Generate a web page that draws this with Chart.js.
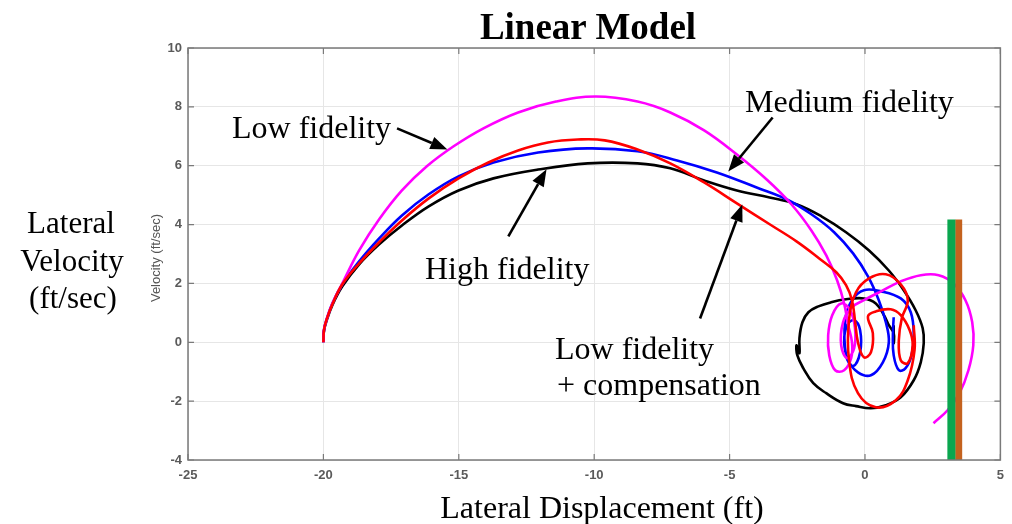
<!DOCTYPE html>
<html><head><meta charset="utf-8">
<script src="https://cdn.jsdelivr.net/npm/chart.js@4.4.1/dist/chart.umd.min.js"></script>
<style>
html,body{margin:0;padding:0;background:#fff;}
#wrap{position:relative;width:1012px;height:524px;overflow:hidden;background:#fff;}
#c{position:absolute;left:0;top:0;}
.t{position:absolute;font-family:"Liberation Serif","Times New Roman",serif;color:#000;white-space:nowrap;line-height:1;font-size:32px;}
.s{position:absolute;font-family:"Liberation Sans",Arial,sans-serif;color:#555;white-space:nowrap;line-height:1;font-size:13px;}
</style></head><body>
<div id="wrap">
<canvas id="c" width="1012" height="524"></canvas>
<div class="t" style="left:588px;top:26px;transform:translate(-50%,-50%);font-size:37px;font-weight:bold;">Linear Model</div>
<div class="t" style="left:71px;top:222px;transform:translate(-50%,-50%);font-size:31px;">Lateral</div>
<div class="t" style="left:72px;top:260px;transform:translate(-50%,-50%);font-size:31px;">Velocity</div>
<div class="t" style="left:73px;top:297px;transform:translate(-50%,-50%);font-size:31px;">(ft/sec)</div>
<div class="t" style="left:602px;top:507px;transform:translate(-50%,-50%);">Lateral Displacement (ft)</div>
<div class="t" style="left:232px;top:127px;transform:translateY(-50%);">Low fidelity</div>
<div class="t" style="left:745px;top:101px;transform:translateY(-50%);">Medium fidelity</div>
<div class="t" style="left:425px;top:268px;transform:translateY(-50%);">High fidelity</div>
<div class="t" style="left:555px;top:348px;transform:translateY(-50%);">Low fidelity</div>
<div class="t" style="left:557px;top:384px;transform:translateY(-50%);">+ compensation</div>
<div class="s" style="left:155px;top:258px;transform:translate(-50%,-50%) rotate(-90deg);">Velocity (ft/sec)</div>
</div>
<script>
// ---- data ----
const xTickValues = [-25, -20, -15, -10, -5, 0, 5];
const yTickValues = [-4, -2, 0, 2, 4, 6, 8, 10];

// Low fidelity (magenta)
const lowX = [-20.0,-19.98,-19.89,-19.67,-19.30,-18.68,-17.94,-17.10,-16.18,-15.19,-14.09,-12.81,-11.41,-9.94,-8.40,-7.19,-5.94,-4.73,-3.63,-2.72,-1.98,-1.43,-1.03,-0.77,-0.62,
  -0.48,-0.51,-0.77,-1.10,-1.32,-1.36,-1.21,-0.88,-0.55,-0.37,-0.40,-0.66,-0.88,-0.81,-0.48,-0.04,0.59,1.32,2.06,2.72,3.27,3.71,3.96,4.00,3.82,3.49,3.05,2.53];
const lowY = [0,0.41,0.75,1.32,2.00,3.12,4.18,5.16,5.98,6.66,7.27,7.81,8.18,8.35,8.18,7.81,7.20,6.38,5.53,4.69,3.80,2.95,2.11,1.32,0.58,
  0,-0.54,-0.95,-0.95,-0.44,0.24,0.92,1.32,1.09,0.48,-0.20,-0.54,-0.10,0.68,1.19,1.43,1.73,2.07,2.28,2.28,2.00,1.43,0.68,-0.10,-0.95,-1.73,-2.31,-2.75];

// Medium fidelity (blue)
const medX = [-20.0,-19.98,-19.89,-19.67,-19.30,-18.68,-17.94,-17.10,-16.11,-15.01,-13.72,-12.07,-10.24,-8.40,-6.94,-5.47,-4.00,-2.90,-1.98,-1.14,-0.44,0.11,0.51,0.77,0.88,
  0.66,0.22,-0.26,-0.62,-0.77,-0.66,-0.40,-0.18,-0.18,-0.44,-0.70,-0.73,-0.48,-0.04,0.59,1.32,1.69,1.80,1.72,1.50,1.25,1.06,1.03,1.06];
const medY = [0,0.41,0.75,1.32,1.97,2.75,3.53,4.31,5.03,5.64,6.11,6.45,6.59,6.49,6.18,5.77,5.26,4.86,4.35,3.74,3.02,2.24,1.43,0.68,0,
  -0.68,-1.12,-1.02,-0.61,0,0.58,0.75,0.41,-0.34,-0.81,-0.44,0.75,1.43,1.77,1.73,1.49,1.02,0.24,-0.44,-0.88,-0.95,-0.44,0.24,0.85];

// High fidelity (black)
const highX = [-20.0,-19.98,-19.89,-19.67,-19.30,-18.68,-17.94,-17.10,-16.11,-15.01,-13.72,-12.07,-10.24,-8.40,-7.19,-5.94,-4.73,-3.52,-2.53,-1.61,-0.70,0.15,0.88,1.43,1.87,2.13,2.17,
  2.06,1.80,1.32,0.77,0.22,-0.33,-0.81,-1.43,-1.91,-2.28,-2.50,-2.53,-2.42,-2.42,-2.31,-2.09,-1.72,-1.25,-0.70,-0.04,0.40,0.70,0.88,1.06,1.06,1.06];
const highY = [0,0.37,0.71,1.26,1.90,2.65,3.33,3.97,4.62,5.16,5.57,5.87,6.08,6.08,5.91,5.50,5.16,4.92,4.69,4.28,3.74,3.12,2.44,1.77,1.09,0.48,-0.03,
  -0.68,-1.29,-1.87,-2.14,-2.24,-2.17,-2.07,-1.73,-1.39,-0.88,-0.44,-0.10,-0.37,0.14,0.68,1.02,1.22,1.36,1.46,1.49,1.32,0.92,0.58,0.31,-0.03,0.58];

// Low fidelity + compensation (red)
const compX = [-20.0,-19.98,-19.89,-19.67,-19.30,-18.68,-17.94,-17.10,-16.11,-15.01,-13.91,-12.81,-11.71,-10.61,-9.61,-8.40,-7.19,-5.94,-4.73,-3.52,-2.53,-1.69,-1.06,-0.70,-0.48,-0.37,
  -0.26,-0.04,0.22,0.29,0.11,0.40,0.95,1.32,1.65,1.76,1.58,1.32,1.25,1.36,1.58,1.32,0.77,0.15,-0.33,-0.59,-0.59,-0.26,0.40,1.14,1.58,1.83,1.80];
const compY = [0,0.41,0.75,1.29,1.97,2.68,3.40,4.14,4.89,5.57,6.11,6.52,6.79,6.89,6.86,6.55,6.08,5.43,4.72,4.01,3.43,2.85,2.38,1.94,1.43,0.75,
  0,-0.51,-0.34,0.31,0.88,1.05,1.12,0.92,0.41,-0.10,-0.71,-0.61,0.07,0.82,1.43,1.97,2.31,2.17,1.70,0.75,-0.61,-1.73,-2.21,-1.97,-1.29,-0.27,0.58];

// Barrier bars (green, orange): x position, bottom and top
const greenBarX = [3.19, 3.19];
const orangeBarX = [3.46, 3.46];
const barY = [-4, 4.17];

// Annotation arrows [tailX, tailY, tipX, tipY] in data units
const arrows = [
  [-17.28, 7.27, -15.42, 6.55],
  [-3.41, 7.64, -5.05, 5.80],
  [-13.17, 3.60, -11.76, 5.88],
  [-6.09, 0.81, -4.53, 4.68]
];

const pts = (xs, ys) => xs.map((x, i) => ({x, y: ys[i]}));

const frame = {
  id: 'frame',
  afterDatasetsDraw(chart) {
    const {ctx, chartArea: a, scales: {x, y}} = chart;
    ctx.save();
    ctx.strokeStyle = '#000'; ctx.fillStyle = '#000'; ctx.lineWidth = 2.6;
    arrows.forEach(([x0, y0, x1, y1]) => {
      const px0 = x.getPixelForValue(x0), py0 = y.getPixelForValue(y0);
      const px1 = x.getPixelForValue(x1), py1 = y.getPixelForValue(y1);
      const ang = Math.atan2(py1 - py0, px1 - px0);
      const L = 17, W = 6.5;
      const bx = px1 - L * Math.cos(ang), by = py1 - L * Math.sin(ang);
      ctx.beginPath(); ctx.moveTo(px0, py0); ctx.lineTo(bx, by); ctx.stroke();
      ctx.beginPath();
      ctx.moveTo(px1, py1);
      ctx.lineTo(bx + W * Math.sin(ang), by - W * Math.cos(ang));
      ctx.lineTo(bx - W * Math.sin(ang), by + W * Math.cos(ang));
      ctx.closePath(); ctx.fill();
    });
    ctx.strokeStyle = '#7a7a7a'; ctx.lineWidth = 1.5;
    ctx.strokeRect(a.left, a.top, a.right - a.left, a.bottom - a.top);
    ctx.lineWidth = 1.2;
    const t = 6;
    ctx.beginPath();
    xTickValues.forEach(v => {
      const p = x.getPixelForValue(v);
      ctx.moveTo(p, a.bottom); ctx.lineTo(p, a.bottom - t);
      ctx.moveTo(p, a.top); ctx.lineTo(p, a.top + t);
    });
    yTickValues.forEach(v => {
      const p = y.getPixelForValue(v);
      ctx.moveTo(a.left, p); ctx.lineTo(a.left + t, p);
      ctx.moveTo(a.right, p); ctx.lineTo(a.right - t, p);
    });
    ctx.stroke();
    ctx.restore();
  }
};

const line = (data, color, order) => ({
  data, borderColor: color, borderWidth: 2.6, showLine: true, pointRadius: 0,
  tension: 0.4, fill: false, order
});
const bar = (xs, color, w) => ({
  data: pts(xs, barY), borderColor: color, borderWidth: w, borderCapStyle: 'butt',
  showLine: true, pointRadius: 0, tension: 0, order: -1
});

const tickFont = {family: 'Liberation Sans, Arial', size: 13, weight: 'bold'};

new Chart(document.getElementById('c'), {
  type: 'scatter',
  data: {
    datasets: [
      line(pts(highX, highY), '#000000', 4),
      line(pts(medX, medY), '#0000ff', 3),
      line(pts(lowX, lowY), '#ff00ff', 2),
      line(pts(compX, compY), '#ff0000', 1),
      bar(greenBarX, '#0aa64f', 8),
      bar(orangeBarX, '#c4621e', 7)
    ]
  },
  options: {
    responsive: false, animation: false,
    layout: {padding: {left: 0, right: 8, top: 48, bottom: 0}},
    plugins: {legend: {display: false}, tooltip: {enabled: false}, title: {display: false}},
    scales: {
      x: {
        type: 'linear', min: -25, max: 5,
        afterBuildTicks: s => { s.ticks = xTickValues.map(v => ({value: v})); },
        afterFit: s => { s.height = 64; },
        grid: {color: '#e6e6e6', lineWidth: 1, drawTicks: false},
        border: {display: false},
        ticks: {padding: 8, color: '#5a5a5a', font: tickFont, maxRotation: 0}
      },
      y: {
        type: 'linear', min: -4, max: 10,
        afterBuildTicks: s => { s.ticks = yTickValues.map(v => ({value: v})); },
        afterFit: s => { s.width = 188; },
        grid: {color: '#e6e6e6', lineWidth: 1, drawTicks: false},
        border: {display: false},
        ticks: {padding: 6, color: '#5a5a5a', font: tickFont}
      }
    }
  },
  plugins: [frame]
});
</script>
</body></html>
